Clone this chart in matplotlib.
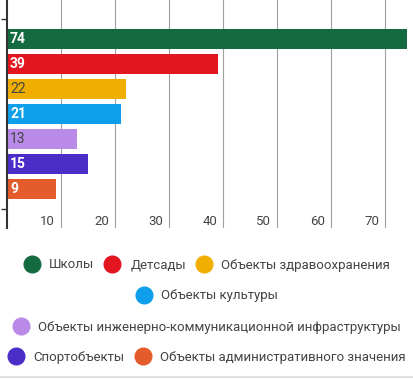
import matplotlib
matplotlib.use('Agg')
import matplotlib.pyplot as plt
from matplotlib.lines import Line2D
from matplotlib.transforms import ScaledTranslation, blended_transform_factory

series = ['Школы', 'Детсады', 'Объекты здравоохранения', 'Объекты культуры',
          'Объекты инженерно-коммуникационной инфраструктуры', 'Спортобъекты',
          'Объекты административного значения']
values = [74, 39, 22, 21, 13, 15, 9]
colors = ['#156b40', '#e3161f', '#efae00', '#0f9ee9', '#b98ae8', '#4b2ec8', '#e45c2b']
label_colors = ['white', 'white', '#444444', 'white', '#444444', 'white', 'white']
xticks = [10, 20, 30, 40, 50, 60, 70]
legend_rows = [[0, 1, 2], [3], [4], [5, 6]]

plt.rcParams['font.family'] = ['Roboto', 'DejaVu Sans']

W, H = 414, 379
fig = plt.figure(figsize=(W / 100, H / 100), dpi=100)
ax = fig.add_axes([7.3 / W, 1 - 228 / H, 1 - 7.3 / W, 228 / H])

# one category band, seven series bars inside it
slot = 25 / 190
bar_h = 20 / 190
for i, (v, c, lc) in enumerate(zip(values, colors, label_colors)):
    y = (i - 3) * slot
    ax.barh(y, v, height=bar_h, color=c, zorder=2)
    ax.annotate(str(v), xy=(0, y), xytext=(2, 0), textcoords='offset points',
                va='center', ha='left', color=lc, fontsize=10,
                fontweight='bold' if lc == 'white' else 'normal', zorder=3)

ax.set_xlim(0, (W - 7.3) / 5.4)
ax.set_ylim(0.6, -0.6)

ax.set_xticks(xticks)
ax.xaxis.grid(True, color='#a0a0a0', linewidth=0.8)
ax.set_axisbelow(True)
ax.tick_params(axis='x', length=0, labelbottom=False)
trans = blended_transform_factory(ax.transData, ax.transAxes) + \
    ScaledTranslation(-0.06, 0.03, fig.dpi_scale_trans)
for t in xticks:
    ax.text(t, 0, str(t), transform=trans, ha='right', va='baseline',
            fontsize=9.5, color='#444444')

ax.set_yticks([])
ax.set_yticks([-0.5, 0.5], minor=True)
ax.tick_params(axis='y', which='minor', length=4.3, width=1, color='#333333',
               labelleft=False)

for s in ['top', 'right', 'bottom']:
    ax.spines[s].set_visible(False)
ax.spines['left'].set_color('#333333')
ax.spines['left'].set_linewidth(1.5)

for row, yp in zip(legend_rows, [265, 296, 327, 357]):
    handles = [Line2D([], [], ls='none', marker='o', markersize=12,
                      markerfacecolor=colors[i], markeredgecolor=colors[i])
               for i in row]
    fig.legend(handles, [series[i] for i in row], loc='center',
               bbox_to_anchor=(0.5, 1 - yp / H), ncol=len(row), frameon=False,
               fontsize=9.5, handlelength=1.2, handletextpad=0.75,
               columnspacing=0.75, labelcolor='#444444',
               borderpad=0, borderaxespad=0)

fig.add_artist(Line2D([0, 1], [1 - 376.5 / H] * 2, transform=fig.transFigure,
                      color='#e0e0e0', lw=1.5))

fig.savefig('out.png', dpi=100)
